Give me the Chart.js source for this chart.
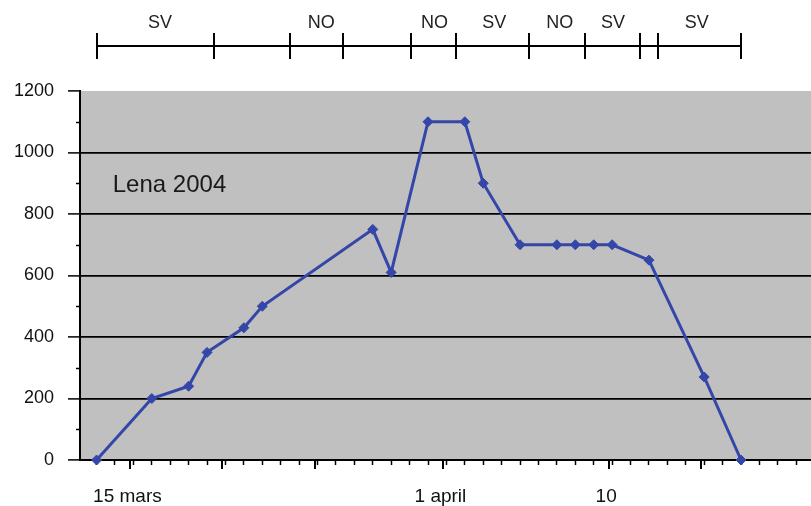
<!DOCTYPE html>
<html>
<head>
<meta charset="utf-8">
<script src="https://cdn.jsdelivr.net/npm/chart.js@4/dist/chart.umd.min.js"></script>
<style>
  html, body { margin: 0; padding: 0; background: #fff; overflow: hidden; }
  #wrap { width: 811px; height: 506px; }
</style>
</head>
<body>
<div id="wrap"><canvas id="chart_lena2004"></canvas></div>
<script>
// measured points (day counted from 1 March, so 32 = 1 april)
const days = [13, 16, 18, 19, 21, 22, 28, 29, 31, 33, 34, 36, 38, 39, 40, 41, 43, 46, 48];
const levels = [0, 200, 240, 350, 430, 500, 750, 610, 1100, 1100, 900, 700, 700, 700, 700, 700, 650, 270, 0];

// x axis labels and longer ticks
const labelDays = [15, 32, 41];
const labelTexts = ['15 mars', '1 april', '10'];
const majorTickDays = [15, 20, 25, 32, 41, 46];

// bar above the chart
const barDivisions = [13, 19.4, 23.5, 26.4, 30.1, 32.5, 36.5, 39.5, 42.5, 43.5, 48];
const barLabelDays = [16.45, 25.2, 31.35, 34.6, 38.15, 41.05, 45.6];
const barLabelTexts = ['SV', 'NO', 'NO', 'SV', 'NO', 'SV', 'SV'];

const chartTitle = 'Lena 2004';

const FONT = '"Liberation Sans", Arial, sans-serif';

var chart_lena2004 = new Chart(document.getElementById('chart_lena2004'), {
    type: 'line',
    data: {
        datasets: [
            {
                label: chartTitle,
                data: days.map((d, i) => ({x: d, y: levels[i]})),
                borderColor: '#3447a8',
                backgroundColor: '#3447a8',
                borderWidth: 3,
                pointStyle: 'rectRot',
                pointRadius: 5,
                pointBorderWidth: 1,
                tension: 0,
                clip: false
            }
        ]
    },
    options: {
        animation: false,
        responsive: true,
        maintainAspectRatio: false,
        layout: {
            autoPadding: false,
            padding: {top: 91, left: 0, right: 0, bottom: 0}
        },
        plugins: {
            legend: {display: false},
            title: {display: false},
            tooltip: {enabled: false}
        },
        scales: {
            x: {
                type: 'linear',
                min: 12.1,
                max: 51.8,
                afterBuildTicks: (scale) => {
                    const t = [];
                    for (let d = Math.ceil(scale.min); d <= Math.floor(scale.max); d++) t.push({value: d});
                    scale.ticks = t;
                },
                afterFit: (scale) => {
                    scale.height = 46;
                    scale.paddingLeft = 0;
                    scale.paddingRight = 0;
                },
                ticks: {
                    autoSkip: false,
                    maxRotation: 0,
                    padding: 20,
                    labelOffset: -6,
                    color: '#111',
                    font: {family: FONT, size: 19},
                    callback: (v) => {
                        const i = labelDays.indexOf(v);
                        return i >= 0 ? labelTexts[i] : '';
                    }
                },
                grid: {
                    drawOnChartArea: false,
                    tickLength: 5,
                    tickColor: '#000',
                    tickWidth: 1.5
                },
                border: {display: true, color: '#000', width: 2}
            },
            y: {
                type: 'linear',
                min: 0,
                max: 1200,
                afterFit: (scale) => { scale.width = 80; },
                ticks: {
                    stepSize: 200,
                    padding: 14,
                    color: '#111',
                    font: {family: FONT, size: 18},
                    callback: (v) => String(v)
                },
                grid: {
                    color: (ctx) => (ctx.tick && ctx.tick.value > 0 && ctx.tick.value < 1200) ? '#000' : 'rgba(0,0,0,0)',
                    lineWidth: 1.8,
                    tickColor: '#000',
                    tickLength: 12,
                    tickWidth: 1.5
                },
                border: {display: true, color: '#000', width: 2}
            }
        }
    },
    plugins: [{
        id: 'plotBackground',
        beforeDraw: (chart) => {
            const ctx = chart.ctx;
            const a = chart.chartArea;
            ctx.save();
            ctx.fillStyle = '#fff';
            ctx.fillRect(0, 0, chart.width, chart.height);
            ctx.fillStyle = '#c0c0c0';
            ctx.fillRect(a.left, a.top, a.right - a.left, a.bottom - a.top);
            ctx.restore();
        }
    }, {
        id: 'extras',
        afterDraw: (chart) => {
            const ctx = chart.ctx;
            const xs = chart.scales.x;
            const ys = chart.scales.y;
            const a = chart.chartArea;
            ctx.save();
            ctx.strokeStyle = '#000';

            // longer ticks on the date axis
            ctx.lineWidth = 2;
            majorTickDays.forEach((d) => {
                const px = Math.round(xs.getPixelForValue(d) - 3);
                ctx.beginPath();
                ctx.moveTo(px, a.bottom);
                ctx.lineTo(px, a.bottom + 9);
                ctx.stroke();
            });

            // minor ticks on the value axis
            ctx.lineWidth = 1.5;
            for (let v = 100; v < 1200; v += 200) {
                const py = Math.round(ys.getPixelForValue(v)) + 0.5;
                ctx.beginPath();
                ctx.moveTo(a.left - 4, py);
                ctx.lineTo(a.left + 1, py);
                ctx.stroke();
            }

            // bar above the chart
            const barY = 46;
            ctx.lineWidth = 2;
            ctx.beginPath();
            ctx.moveTo(xs.getPixelForValue(barDivisions[0]), barY);
            ctx.lineTo(xs.getPixelForValue(barDivisions[barDivisions.length - 1]), barY);
            ctx.stroke();
            barDivisions.forEach((d) => {
                const px = Math.round(xs.getPixelForValue(d));
                ctx.beginPath();
                ctx.moveTo(px, 33);
                ctx.lineTo(px, 59);
                ctx.stroke();
            });
            ctx.fillStyle = '#222';
            ctx.font = '18px ' + FONT;
            ctx.textAlign = 'center';
            ctx.textBaseline = 'middle';
            barLabelDays.forEach((d, i) => {
                ctx.fillText(barLabelTexts[i], xs.getPixelForValue(d), 23);
            });

            // title inside the plot
            ctx.font = '24px ' + FONT;
            ctx.textAlign = 'left';
            ctx.fillStyle = '#1a1a1a';
            ctx.fillText(chartTitle, xs.getPixelForValue(13.88), ys.getPixelForValue(893));
            ctx.restore();
        }
    }]
});
</script>
</body>
</html>
